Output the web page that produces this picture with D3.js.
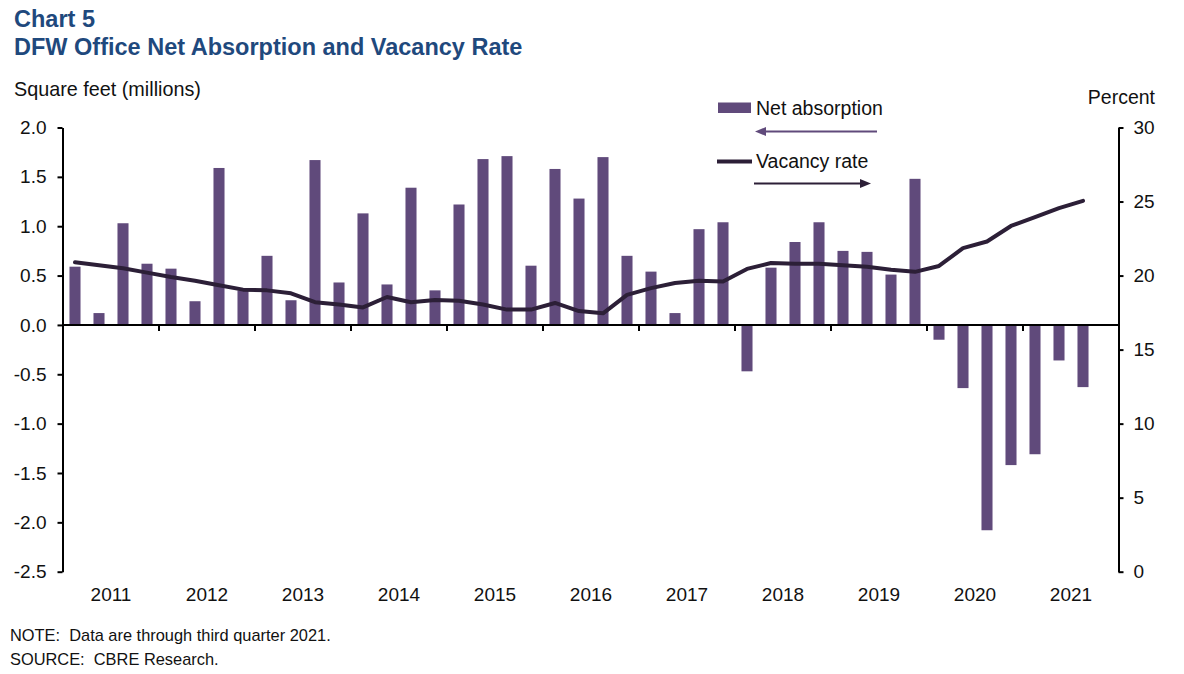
<!DOCTYPE html>
<html>
<head>
<meta charset="utf-8">
<script src="https://cdn.jsdelivr.net/npm/d3@7/dist/d3.min.js"></script>
<style>
  html, body { margin: 0; padding: 0; background: #fff; }
  svg { display: block; font-family: "Liberation Sans", Arial, sans-serif; }
</style>
</head>
<body>
<svg id="chart" width="1184" height="674"></svg>
<script>
// ---- Data ----
const years = ["2011","2012","2013","2014","2015","2016","2017","2018","2019","2020","2021"];
const quarterLabels = ["Q1","Q2","Q3","Q4"];
// Net absorption, million sq ft (2011Q1 .. 2021Q3)
const netAbsorption = [
  0.59, 0.12, 1.03, 0.62,
  0.57, 0.24, 1.59, 0.35,
  0.70, 0.25, 1.67, 0.43,
  1.13, 0.41, 1.39, 0.35,
  1.22, 1.68, 1.71, 0.60,
  1.58, 1.28, 1.70, 0.70,
  0.54, 0.12, 0.97, 1.04,
  -0.47, 0.58, 0.84, 1.04,
  0.75, 0.74, 0.51, 1.48,
  -0.15, -0.64, -2.08, -1.42,
  -1.31, -0.36, -0.63
];
// Vacancy rate, percent
const vacancyRate = [
  20.9, 20.7, 20.5, 20.2,
  19.9, 19.65, 19.35, 19.05,
  19.0, 18.8, 18.2, 18.05,
  17.85, 18.55, 18.2, 18.35,
  18.3, 18.05, 17.7, 17.7,
  18.15, 17.6, 17.45, 18.7,
  19.15, 19.5, 19.65, 19.6,
  20.45, 20.85, 20.8, 20.8,
  20.7, 20.6, 20.4, 20.25,
  20.65, 21.85, 22.3, 23.35,
  23.95, 24.55, 25.05
];
const leftTicks = [-2.5, -2.0, -1.5, -1.0, -0.5, 0.0, 0.5, 1.0, 1.5, 2.0];
const rightTicks = [0, 5, 10, 15, 20, 25, 30];

// ---- Layout ----
const svg = d3.select("#chart");
const plot = { left: 63, right: 1119, top: 127.5, bottom: 571.7 };
const barColor = "#604A7B";
const lineColor = "#2c1f37";
const titleColor = "#1F497D";

// all quarter slots (including empty 2021Q4)
const slots = [];
years.forEach(y => quarterLabels.forEach(q => slots.push(y + q)));
const data = netAbsorption.map((v, i) => ({ id: slots[i], na: v, vr: vacancyRate[i] }));

const x = d3.scaleBand().domain(slots).range([plot.left, plot.right])
  .paddingInner(0.54).paddingOuter(0.27);
const xYear = d3.scaleBand().domain(years).range([plot.left, plot.right]);
const yL = d3.scaleLinear().domain([-2.5, 2.0]).range([plot.bottom, plot.top]);
const yR = d3.scaleLinear().domain([0, 30]).range([plot.bottom, plot.top]);

// ---- Titles ----
svg.append("text").attr("x", 14).attr("y", 27)
  .attr("font-size", 23.5).attr("font-weight", "bold").attr("fill", titleColor)
  .text("Chart 5");
svg.append("text").attr("x", 14).attr("y", 55)
  .attr("font-size", 23.5).attr("font-weight", "bold").attr("fill", titleColor)
  .text("DFW Office Net Absorption and Vacancy Rate");
svg.append("text").attr("x", 14).attr("y", 96)
  .attr("font-size", 19.8).attr("fill", "#111")
  .text("Square feet (millions)");
svg.append("text").attr("x", 1155).attr("y", 104).attr("text-anchor", "end")
  .attr("font-size", 19.5).attr("fill", "#111")
  .text("Percent");

// ---- Bars ----
svg.append("g").selectAll("rect").data(data).join("rect")
  .attr("x", d => x(d.id))
  .attr("width", x.bandwidth())
  .attr("y", d => yL(Math.max(0, d.na)))
  .attr("height", d => Math.abs(yL(d.na) - yL(0)))
  .attr("fill", barColor);

// ---- Vacancy line ----
const line = d3.line()
  .x(d => x(d.id) + x.bandwidth() / 2)
  .y(d => yR(d.vr));
svg.append("path").datum(data)
  .attr("d", line)
  .attr("fill", "none")
  .attr("stroke", lineColor)
  .attr("stroke-width", 4)
  .attr("stroke-linejoin", "round")
  .attr("stroke-linecap", "round");

// ---- Axes ----
const gL = svg.append("g").attr("transform", `translate(${plot.left - 0.5},0)`)
  .call(d3.axisLeft(yL).tickValues(leftTicks).tickSize(5).tickSizeOuter(0).tickPadding(11)
    .tickFormat(d => d.toFixed(1)));
const gR = svg.append("g").attr("transform", `translate(${plot.right - 0.5},0)`)
  .call(d3.axisRight(yR).tickValues(rightTicks).tickSize(5).tickSizeOuter(0).tickPadding(10)
    .tickFormat(d => String(d)));
[gL, gR].forEach(g => {
  g.select(".domain").attr("stroke", "#000").attr("stroke-width", 2);
  g.selectAll(".tick line").attr("stroke", "#000").attr("stroke-width", 2);
  g.selectAll(".tick text").attr("font-size", 19).attr("fill", "#111")
    .attr("font-family", "Liberation Sans, Arial, sans-serif");
});

// zero line with year-boundary ticks
const y0 = yL(0);
svg.append("line").attr("x1", plot.left - 1).attr("x2", plot.right)
  .attr("y1", y0).attr("y2", y0).attr("stroke", "#000").attr("stroke-width", 2);
svg.append("g").selectAll("line").data(years.slice(1)).join("line")
  .attr("x1", d => xYear(d)).attr("x2", d => xYear(d))
  .attr("y1", y0).attr("y2", y0 + 6)
  .attr("stroke", "#000").attr("stroke-width", 2);

// year labels
svg.append("g").selectAll("text").data(years).join("text")
  .attr("x", d => xYear(d) + xYear.bandwidth() / 2)
  .attr("y", 601)
  .attr("text-anchor", "middle")
  .attr("font-size", 19).attr("fill", "#111")
  .text(d => d);

// ---- Legend ----
const lg = svg.append("g");
lg.append("rect").attr("x", 718).attr("y", 102.5).attr("width", 33).attr("height", 10.5).attr("fill", barColor);
lg.append("text").attr("x", 756).attr("y", 115).attr("font-size", 19.5).attr("fill", "#111").text("Net absorption");
lg.append("line").attr("x1", 877).attr("x2", 764).attr("y1", 131.5).attr("y2", 131.5)
  .attr("stroke", barColor).attr("stroke-width", 2);
lg.append("path").attr("d", "M755,131.5 L766,127 L766,136 Z").attr("fill", barColor);
lg.append("line").attr("x1", 717).attr("x2", 752).attr("y1", 161.5).attr("y2", 161.5)
  .attr("stroke", lineColor).attr("stroke-width", 4);
lg.append("text").attr("x", 756).attr("y", 168).attr("font-size", 19.5).attr("fill", "#111").text("Vacancy rate");
lg.append("line").attr("x1", 754).attr("x2", 862).attr("y1", 183.5).attr("y2", 183.5)
  .attr("stroke", lineColor).attr("stroke-width", 2);
lg.append("path").attr("d", "M871,183.5 L860,179 L860,188 Z").attr("fill", lineColor);

// ---- Notes ----
svg.append("text").attr("x", 10).attr("y", 641).attr("font-size", 16.4).attr("fill", "#111")
  .attr("xml:space", "preserve").text("NOTE:  Data are through third quarter 2021.");
svg.append("text").attr("x", 10).attr("y", 665).attr("font-size", 16.4).attr("fill", "#111")
  .attr("xml:space", "preserve").text("SOURCE:  CBRE Research.");
</script>
</body>
</html>
